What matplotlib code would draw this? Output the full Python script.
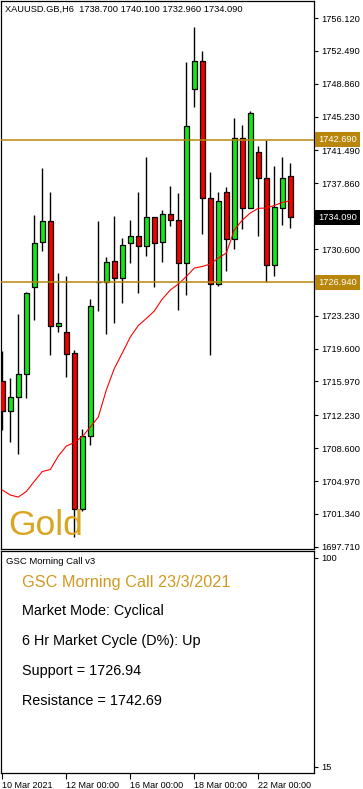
import numpy as np
import matplotlib.pyplot as plt

plt.rcParams['font.family'] = ['Liberation Sans', 'DejaVu Sans']

# 6h candles for XAUUSD
opens = [1716.02, 1712.67, 1714.28, 1716.76, 1726.43, 1731.34, 1733.69, 1722.06, 1721.40, 1719.11,
         1701.84, 1709.94, 1726.94, 1726.92, 1729.27, 1727.36, 1731.23, 1732.00, 1730.90, 1734.10,
         1731.34, 1734.43, 1733.77, 1729.02, 1748.24, 1751.34, 1736.20, 1726.70, 1736.86, 1731.74,
         1742.83, 1735.10, 1741.28, 1738.41, 1728.80, 1735.10, 1738.70]
highs = [1719.33, 1716.35, 1723.42, 1725.88, 1734.36, 1739.58, 1736.90, 1727.91, 1727.62, 1719.44,
         1710.71, 1725.04, 1733.69, 1729.72, 1734.25, 1731.78, 1733.80, 1736.90, 1740.80, 1734.10,
         1734.91, 1737.56, 1736.79, 1751.23, 1755.16, 1752.47, 1739.11, 1736.86, 1737.48, 1745.07,
         1744.27, 1745.85, 1741.98, 1742.64, 1739.80, 1740.76, 1740.10]
lows = [1710.60, 1709.31, 1707.92, 1714.14, 1722.79, 1730.41, 1718.92, 1721.43, 1716.49, 1698.81,
        1701.71, 1708.98, 1723.78, 1721.24, 1722.39, 1724.67, 1729.09, 1725.77, 1729.86, 1726.37,
        1729.20, 1733.11, 1723.83, 1725.48, 1746.32, 1732.29, 1718.86, 1726.54, 1728.20, 1730.63,
        1732.84, 1735.10, 1732.07, 1726.92, 1727.65, 1733.28, 1732.96]
closes = [1712.70, 1714.28, 1716.79, 1725.70, 1731.23, 1733.69, 1722.06, 1722.42, 1718.97, 1701.84,
          1709.94, 1724.27, 1726.94, 1729.13, 1727.36, 1731.01, 1732.00, 1730.90, 1734.10, 1731.23,
          1734.43, 1733.77, 1729.02, 1744.16, 1751.34, 1736.20, 1726.77, 1735.87, 1731.74, 1742.83,
          1735.10, 1745.59, 1738.41, 1728.80, 1735.21, 1738.41, 1734.09]
ma = [1703.97, 1703.42, 1703.20, 1703.81, 1704.93, 1706.02, 1706.24, 1707.73, 1708.83, 1709.22,
      1709.88, 1710.93, 1712.04, 1715.02, 1717.40, 1719.11, 1720.88, 1722.15, 1722.92, 1723.75,
      1725.08, 1726.07, 1726.73, 1727.56, 1728.50, 1728.67, 1728.94, 1729.60, 1730.16, 1732.70,
      1733.80, 1734.58, 1735.10, 1735.13, 1735.41, 1735.74, 1735.94]

support = 1726.94
resistance = 1742.69
last_price = 1734.09

price_ticks = [1756.12, 1752.49, 1748.86, 1745.23, 1741.49, 1737.86, 1730.60,
               1723.23, 1719.60, 1715.97, 1712.23, 1708.60, 1704.97, 1701.34, 1697.71]
date_pos = [0, 8, 16, 24, 32]
date_labels = ['10 Mar 2021', '12 Mar 00:00', '16 Mar 00:00', '18 Mar 00:00', '22 Mar 00:00']

panel_lines = ['Market Mode: Cyclical', '6 Hr Market Cycle (D%): Up',
               'Support = %.2f' % support, 'Resistance = %.2f' % resistance]

W, H = 363, 789
fig = plt.figure(figsize=(W / 100, H / 100), dpi=100)


def px_box(x0, y0, x1, y1):
    # pixel box (top-left origin) -> figure fraction rect
    return [x0 / W, 1 - y1 / H, (x1 - x0) / W, (y1 - y0) / H]


ax = fig.add_axes(px_box(1, 1, 314, 549))
ax2 = fig.add_axes(px_box(1, 551, 314, 773))

gold_line = '#B8860B'
green = '#13E613'
red = '#F20000'

x = np.arange(len(opens))
o = np.array(opens)
c = np.array(closes)
up = c >= o
body_bot = np.minimum(o, c)
body_h = np.maximum(np.abs(c - o), 0.04)

ax.vlines(x, lows, highs, color='black', lw=1.0, zorder=2)
ax.bar(x, body_h, bottom=body_bot, width=0.62,
       color=np.where(up, green, red), edgecolor='black', linewidth=0.9, zorder=3)
ax.plot(x, ma, color='red', lw=0.8, zorder=4)

ax.axhline(support, color=gold_line, lw=1.1, zorder=5)
ax.axhline(resistance, color=gold_line, lw=1.1, zorder=5)

ax.set_xlim(-0.1625, 38.96)
ax.set_ylim(1697.46, 1758.0)
ax.set_xticks([])
ax.yaxis.tick_right()
ax.set_yticks(price_ticks)
ax.set_yticklabels(['%.3f' % v for v in price_ticks])
ax.tick_params(axis='y', direction='out', length=3, width=0.8, pad=2, labelsize=6.7)
for s in ax.spines.values():
    s.set_linewidth(0.9)

# highlighted price labels on the right scale
for val, fc in [(resistance, gold_line), (last_price, 'black'), (support, gold_line)]:
    ax.annotate('%.3f' % val, xy=(1, val), xycoords=ax.get_yaxis_transform(),
                xytext=(3.2, 0), textcoords='offset points', va='center', ha='left',
                fontsize=6.7, color='white', annotation_clip=False,
                bbox=dict(boxstyle='square,pad=0.32', fc=fc, ec='none'))

fig.text(5 / W, 1 - 9 / H, 'XAUUSD.GB,H6  1738.700 1740.100 1732.960 1734.090',
         fontsize=6.7, va='center', ha='left')
fig.text(8.5 / W, 1 - 535 / H, 'Gold', fontsize=25.5, color='#DAA520',
         va='baseline', ha='left')

# indicator panel
ax2.set_xlim(-0.1625, 38.96)
ax2.set_ylim(12.43, 102.85)
ax2.yaxis.tick_right()
ax2.set_yticks([15, 100])
ax2.set_yticklabels(['15', '100'])
ax2.tick_params(axis='y', direction='out', length=3, width=0.8, pad=2, labelsize=6.7)
ax2.set_xticks(date_pos)
ax2.set_xticklabels(date_labels, ha='left')
ax2.tick_params(axis='x', direction='out', length=4, width=0.8, pad=1.5, labelsize=6.5)
for s in ax2.spines.values():
    s.set_linewidth(0.9)

fig.text(6 / W, 1 - 561 / H, 'GSC Morning Call v3', fontsize=6.8, va='center', ha='left')
fig.text(22 / W, 1 - 582 / H, 'GSC Morning Call 23/3/2021', fontsize=11.7,
         color='#D09A22', va='center', ha='left')
for k, line in enumerate(panel_lines):
    fig.text(22 / W, 1 - (611 + 30 * k) / H, line, fontsize=10.4, va='center', ha='left')

fig.savefig('out.png', dpi=100)
